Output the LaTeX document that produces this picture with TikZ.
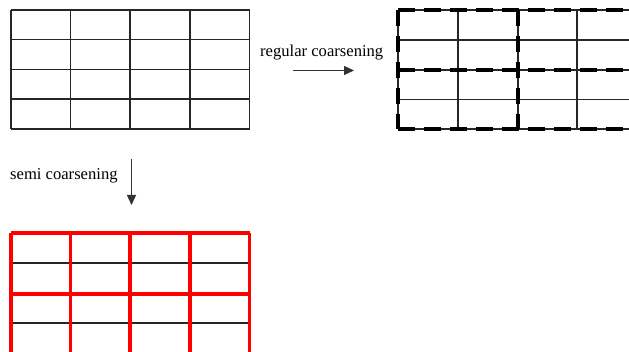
\documentclass[tikz,border=0pt]{standalone}
\usepackage{fontspec}
\setmainfont{Liberation Serif}
\usetikzlibrary{arrows.meta}
\begin{document}
\begin{tikzpicture}[x=1pt,y=-1pt,
  thinline/.style={draw=black!85, line width=1.3pt},
  coarsedash/.style={draw=black, line width=3.8pt, dash pattern=on 16.5pt off 9.5pt},
  redline/.style={draw=red, line width=3.4pt},
  label/.style={font=\fontsize{16.6}{16.6}\selectfont, inner sep=0pt, anchor=base west},
  arrowline/.style={draw=black!80, line width=1.3pt, -{Triangle[length=10pt,width=9pt]}}]
\useasboundingbox (0,0) rectangle (629,352);
\clip (0,0) rectangle (629,352);
\fill[white] (0,0) rectangle (629,352);

% fine grid
\foreach \x in {11,70.5,130,190,249.5} \draw[thinline] (\x,10) -- (\x,129);
\foreach \y in {10,39.5,69.5,99,129} \draw[thinline] (11,\y) -- (249.5,\y);

% regular coarsening: the fine grid, every other line overdrawn dashed
\foreach \x in {398,458,518,577} \draw[thinline] (\x,10) -- (\x,129);
\foreach \y in {10,40,70,99.5,129} \draw[thinline] (398,\y) -- (640,\y);
\foreach \y in {10,70,129} \draw[coarsedash] (398,\y) -- (640,\y);
\foreach \x in {398,518} \draw[coarsedash] (\x,10) -- (\x,129);

% semi coarsening: coarse lines in red
\foreach \y in {263,323} \draw[thinline] (11,\y) -- (249.5,\y);
\foreach \y in {233,294,354} \draw[redline] (11,\y) -- (249.5,\y);
\foreach \x in {11,70.5,130,190,249.5} \draw[redline] (\x,233) -- (\x,356);

% labels and arrows
\node[label] (reg) at (260,57) {regular coarsening};
\coordinate (regA) at (293,70.5);
\coordinate (regB) at (354,70.5);
\draw[arrowline] (regA) -- (regB);

\node[label] (semi) at (10,179.5) {semi coarsening};
\coordinate (semiA) at (131.5,159);
\coordinate (semiB) at (131.5,205);
\draw[arrowline] (semiA) -- (semiB);
\end{tikzpicture}
\end{document}
